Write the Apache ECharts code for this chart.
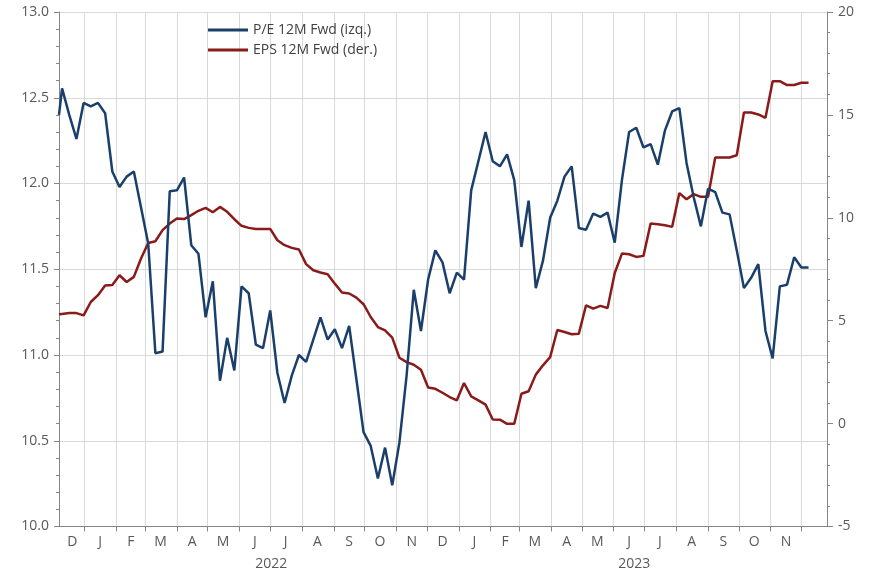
<!DOCTYPE html>
<html>
<head>
<meta charset="utf-8">
<script src="https://cdn.jsdelivr.net/npm/echarts@6/dist/echarts.min.js"></script>
<style>
  html, body { margin: 0; padding: 0; background: #fff; }
  #chart { width: 869px; height: 573px; }
</style>
</head>
<body>
<div id="chart"></div>
<script>
// datos semanales: P/E 12M Fwd (eje izq.) y EPS 12M Fwd (eje der.)
var axisStart = '2021-12-07';
var axisEnd = '2023-12-26';
var firstDate = '2021-12-07';   // primer dato
var weeklyStart = '2021-12-10'; // desde aquí, cada viernes
var monthLetters = ['J', 'F', 'M', 'A', 'M', 'J', 'J', 'A', 'S', 'O', 'N', 'D'];
var yearLabels = { '2022-07-02': '2022', '2023-06-21': '2023' };

var pe = [
  12.40, 12.555, 12.40, 12.26, 12.47, 12.45, 12.47, 12.41, 12.07, 11.98,
  12.04, 12.07, 11.86, 11.65, 11.01, 11.02, 11.955, 11.96, 12.035, 11.64,
  11.59, 11.22, 11.43, 10.85, 11.10, 10.91, 11.40, 11.36, 11.06, 11.04,
  11.26, 10.895, 10.72, 10.88, 11.00, 10.96, 11.09, 11.22, 11.09, 11.15,
  11.04, 11.17, 10.86, 10.55, 10.47, 10.28, 10.46, 10.24, 10.49, 10.88,
  11.38, 11.14, 11.44, 11.61, 11.54, 11.36, 11.48, 11.44, 11.96, 12.13,
  12.30, 12.13, 12.10, 12.17, 12.02, 11.63, 11.90, 11.39, 11.55, 11.80,
  11.90, 12.04, 12.10, 11.74, 11.73, 11.825, 11.805, 11.83, 11.655, 12.02,
  12.30, 12.325, 12.21, 12.23, 12.11, 12.31, 12.42, 12.44, 12.12, 11.92,
  11.75, 11.97, 11.95, 11.83, 11.82, 11.61, 11.39, 11.45, 11.53, 11.14,
  10.98, 11.40, 11.41, 11.57, 11.51, 11.51
];

var eps = [
  5.31, 5.33, 5.37, 5.37, 5.26, 5.91, 6.24, 6.71, 6.74, 7.21,
  6.88, 7.13, 8.02, 8.78, 8.86, 9.40, 9.72, 9.97, 9.94, 10.13,
  10.34, 10.48, 10.27, 10.53, 10.29, 9.93, 9.61, 9.51, 9.46, 9.46,
  9.46, 8.91, 8.67, 8.54, 8.46, 7.75, 7.45, 7.34, 7.26, 6.80,
  6.37, 6.32, 6.12, 5.80, 5.18, 4.69, 4.53, 4.18, 3.20, 2.99,
  2.86, 2.62, 1.75, 1.69, 1.50, 1.29, 1.13, 1.97, 1.32, 1.13,
  0.92, 0.20, 0.19, -0.01, -0.01, 1.45, 1.57, 2.38, 2.83, 3.23,
  4.55, 4.45, 4.34, 4.37, 5.75, 5.59, 5.72, 5.62, 7.32, 8.26,
  8.23, 8.10, 8.15, 9.72, 9.69, 9.64, 9.56, 11.20, 10.90, 11.15,
  11.02, 11.02, 12.93, 12.93, 12.93, 13.04, 15.12, 15.12, 15.02, 14.86,
  16.64, 16.64, 16.45, 16.45, 16.56, 16.56
];

function addDays(s, n) {
  var d = new Date(s + 'T00:00:00Z');
  d.setUTCDate(d.getUTCDate() + n);
  return d.toISOString().slice(0, 10);
}

// eje de categorías diario, para poder poner las marcas en el día 1 de cada mes
var days = [];
for (var d = axisStart; d <= axisEnd; d = addDays(d, 1)) days.push(d);

var weekDates = [firstDate];
for (var i = 1; i < pe.length; i++) weekDates.push(addDays(weeklyStart, 7 * (i - 1)));

// etiqueta del mes en el centro de cada mes (diciembre 2021 parcial)
var monthLabels = { '2021-12-20': 'D' };
for (var y = 2022; y <= 2023; y++) {
  for (var m = 1; m <= 12; m++) {
    if (y === 2023 && m === 12) continue;
    var key = y + '-' + (m < 10 ? '0' : '') + m + '-' + (m === 2 ? '15' : '16');
    monthLabels[key] = monthLetters[m - 1];
  }
}

var isMonthStart = function (idx, val) { return val.slice(8) === '01'; };
var font = 'Open Sans';
var axisColor = '#868686';
var gridColor = '#d9d9d9';

var myChart = echarts.init(document.getElementById('chart'));
myChart.setOption({
  animation: false,
  backgroundColor: '#ffffff',
  textStyle: { fontFamily: font },
  grid: { left: 59, right: 42, top: 12, bottom: 46.5 },
  legend: {
    orient: 'vertical',
    left: 203,
    top: 18,
    itemWidth: 40,
    itemHeight: 3,
    itemGap: 6,
    icon: 'rect',
    textStyle: { fontSize: 14, color: '#404040', fontFamily: font },
    data: ['P/E 12M Fwd (izq.)', 'EPS 12M Fwd (der.)']
  },
  xAxis: [
    {
      type: 'category',
      data: days,
      boundaryGap: false,
      axisLine: { onZero: false, lineStyle: { color: axisColor, width: 1 } },
      axisTick: { interval: isMonthStart, length: 5, lineStyle: { color: axisColor } },
      splitLine: { show: true, interval: isMonthStart, lineStyle: { color: gridColor, width: 1 } },
      axisLabel: {
        interval: function (idx, val) { return monthLabels[val] !== undefined; },
        formatter: function (val) { return monthLabels[val] || ''; },
        color: '#595959',
        fontSize: 14,
        fontFamily: font,
        margin: 9
      }
    },
    {
      type: 'category',
      data: days,
      boundaryGap: false,
      position: 'bottom',
      offset: 22,
      axisLine: { show: false, onZero: false },
      axisTick: { show: false },
      splitLine: { show: false },
      axisLabel: {
        interval: function (idx, val) { return yearLabels[val] !== undefined; },
        formatter: function (val) { return yearLabels[val] || ''; },
        color: '#595959',
        fontSize: 14,
        fontFamily: font,
        margin: 9
      }
    }
  ],
  yAxis: [
    {
      type: 'value',
      position: 'left',
      min: 10,
      max: 13,
      interval: 0.5,
      axisLine: { show: true, lineStyle: { color: axisColor } },
      axisTick: { show: true, length: 5, lineStyle: { color: axisColor } },
      minorTick: { show: true, splitNumber: 5, length: 3, lineStyle: { color: axisColor } },
      splitLine: { show: true, lineStyle: { color: gridColor } },
      axisLabel: {
        formatter: function (v) { return v.toFixed(1); },
        color: '#595959',
        fontSize: 14,
        fontFamily: font,
        margin: 10
      }
    },
    {
      type: 'value',
      position: 'right',
      min: -5,
      max: 20,
      interval: 5,
      axisLine: { show: true, lineStyle: { color: axisColor } },
      axisTick: { show: true, length: 6, lineStyle: { color: axisColor } },
      minorTick: { show: true, splitNumber: 5, length: 3, lineStyle: { color: axisColor } },
      splitLine: { show: false },
      axisLabel: {
        color: '#595959',
        fontSize: 14,
        fontFamily: font,
        margin: 11
      }
    }
  ],
  series: [
    {
      name: 'P/E 12M Fwd (izq.)',
      type: 'line',
      xAxisIndex: 0,
      yAxisIndex: 0,
      symbol: 'none',
      z: 3,
      color: '#1b3f6b',
      lineStyle: { color: '#1b3f6b', width: 2.5 },
      data: pe.map(function (v, i) { return [weekDates[i], v]; })
    },
    {
      name: 'EPS 12M Fwd (der.)',
      type: 'line',
      xAxisIndex: 0,
      yAxisIndex: 1,
      symbol: 'none',
      z: 2,
      color: '#8b1a1a',
      lineStyle: { color: '#8b1a1a', width: 2.5 },
      data: eps.map(function (v, i) { return [weekDates[i], v]; })
    }
  ]
});

window.onresize = function () {
  myChart.resize();
};
</script>
</body>
</html>
